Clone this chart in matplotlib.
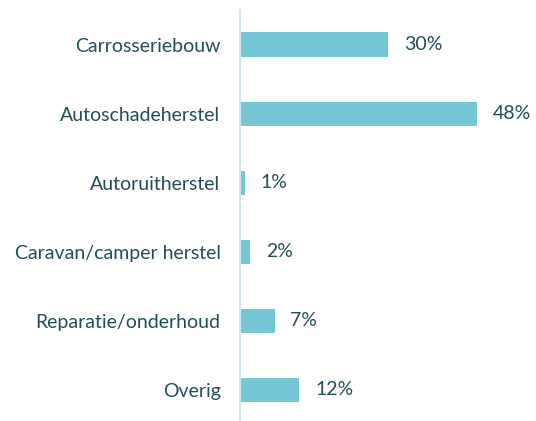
import matplotlib.pyplot as plt
import numpy as np

categories = ['Carrosseriebouw', 'Autoschadeherstel', 'Autoruitherstel',
              'Caravan/camper herstel', 'Reparatie/onderhoud', 'Overig']
values = [30, 48, 1, 2, 7, 12]

plt.rcParams['font.family'] = ['Lato', 'DejaVu Sans']
text_col = '#1f4f5a'
bar_col = '#76c7d6'

fig = plt.figure(figsize=(5.36, 4.21), dpi=100)
ax = fig.add_axes([240/536, 0, 296/536, 1 - 10/421])

y = np.arange(len(categories))
ax.barh(y, values, height=0.35, color=bar_col)
for yi, v in zip(y, values):
    ax.text(v + 3.2, yi, f'{v}%', va='center', ha='left', fontsize=14, color=text_col)

ax.set_xlim(0, 60)
ax.set_ylim(5.45, -0.5)
ax.set_yticks(y)
ax.set_yticklabels(categories, fontsize=14, color=text_col)
ax.tick_params(axis='y', length=0, pad=14)
ax.set_xticks([])
for s in ['top', 'right', 'bottom']:
    ax.spines[s].set_visible(False)
ax.spines['left'].set_color('#c8e8f0')
ax.spines['left'].set_linewidth(1.5)

fig.savefig('out.png', dpi=100)
